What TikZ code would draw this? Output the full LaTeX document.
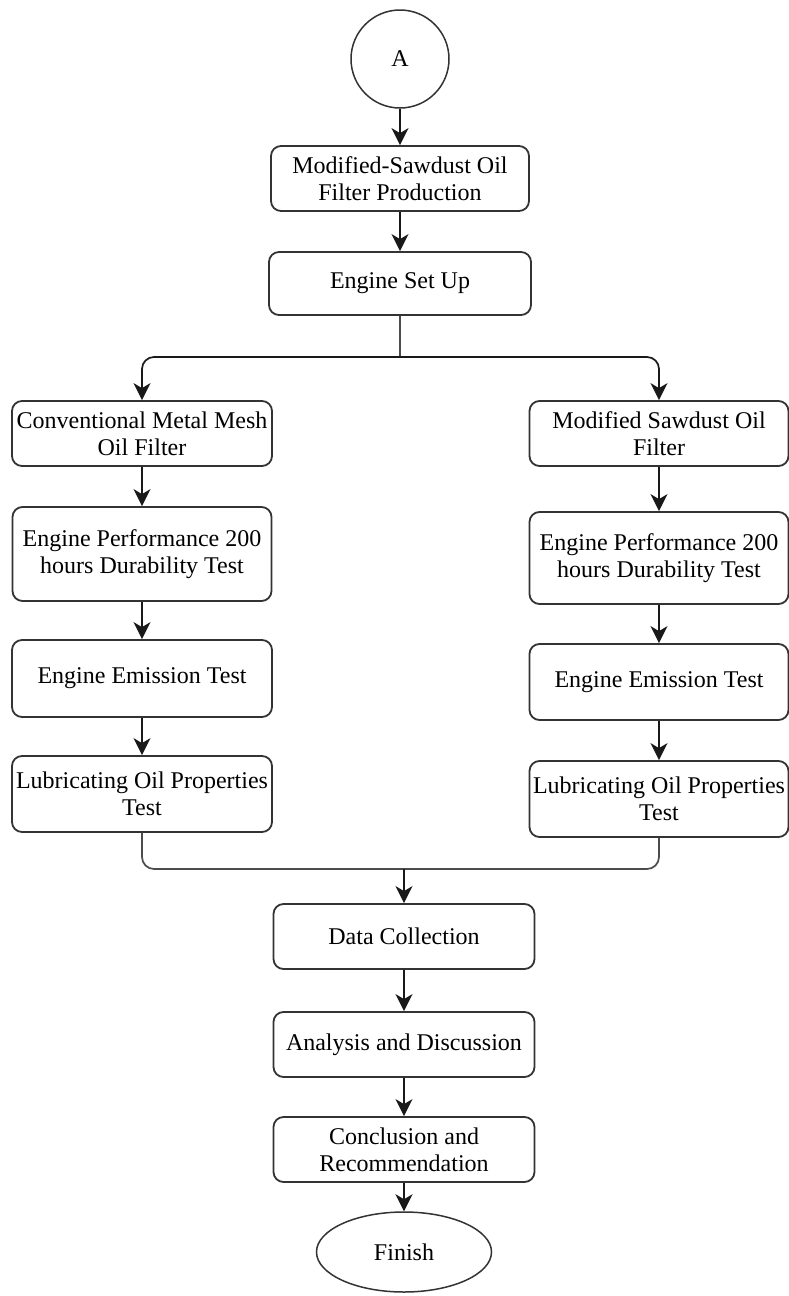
\documentclass[tikz,border=0pt]{standalone}
\usepackage{fontspec}
\setmainfont{Liberation Serif}
\usetikzlibrary{arrows.meta,calc,shapes.geometric}
\begin{document}
\begin{tikzpicture}[x=1pt,y=-1pt,
  font=\fontsize{24}{27}\selectfont,
  box/.style={draw=black!80,line width=1.8pt,rounded corners=10pt,align=center,inner sep=0pt},
  startnode/.style={draw=black!80,line width=1.5pt,circle,minimum size=98pt,inner sep=0pt},
  endnode/.style={draw=black!80,line width=1.5pt,ellipse,minimum width=175pt,minimum height=80pt,inner sep=0pt},
  arr/.style={line width=1.7pt,draw=black!90,-{Stealth[length=17pt,width=17pt,inset=5pt]}},
  ln/.style={line width=1.7pt,draw=black!70}]
\useasboundingbox (0,0) rectangle (789,1296);
\node[startnode] (A) at (400,59) {A};
\node[box,minimum width=258pt,minimum height=65pt] (b1) at (400,178.5) {Modified-Sawdust Oil\\Filter Production};
\node[box,minimum width=262pt,minimum height=63pt] (b2) at (400,283.5) {Engine Set Up};
\node[box,minimum width=260pt,minimum height=65pt] (l1) at (142,433.5) {Conventional Metal Mesh\\Oil Filter};
\node[box,minimum width=259pt,minimum height=94pt] (l2) at (142,554) {Engine Performance 200\\hours Durability Test};
\node[box,minimum width=260pt,minimum height=77pt] (l3) at (142,678.5) {Engine Emission Test};
\node[box,minimum width=260pt,minimum height=76pt] (l4) at (142,794) {Lubricating Oil Properties\\Test};
\node[box,minimum width=259pt,minimum height=65pt] (r1) at (659,433.5) {Modified Sawdust Oil\\Filter};
\node[box,minimum width=259pt,minimum height=92pt] (r2) at (659,558) {Engine Performance 200\\hours Durability Test};
\node[box,minimum width=259pt,minimum height=76pt] (r3) at (659,682) {Engine Emission Test};
\node[box,minimum width=259pt,minimum height=76pt] (r4) at (659,799) {Lubricating Oil Properties\\Test};
\node[box,minimum width=261pt,minimum height=65pt] (d) at (404,936.5) {Data Collection};
\node[box,minimum width=261pt,minimum height=65pt] (an) at (404,1044.5) {Analysis and Discussion};
\node[box,minimum width=261pt,minimum height=65pt] (c) at (404,1149.5) {Conclusion and\\Recommendation};
\node[endnode] (f) at (404,1252) {Finish};
\coordinate (split) at (400,357);
\coordinate (merge) at (404,869);
\draw[arr] (A) -- (b1);
\draw[arr] (b1) -- (b2);
\draw[ln] (b2.south) -- (split);
\draw[arr,rounded corners=12pt] (split) -| (l1.north);
\draw[arr,rounded corners=12pt] (split) -| (r1.north);
\draw[arr] (l1) -- (l2);
\draw[arr] (l2) -- (l3);
\draw[arr] (l3) -- (l4);
\draw[arr] (r1) -- (r2);
\draw[arr] (r2) -- (r3);
\draw[arr] (r3) -- (r4);
\draw[ln,rounded corners=12pt] (l4.south) |- (merge);
\draw[ln,rounded corners=12pt] (r4.south) |- (merge);
\draw[arr] (merge) -- (d.north);
\draw[arr] (d) -- (an);
\draw[arr] (an) -- (c);
\draw[arr] (c) -- (f);
\end{tikzpicture}
\end{document}
